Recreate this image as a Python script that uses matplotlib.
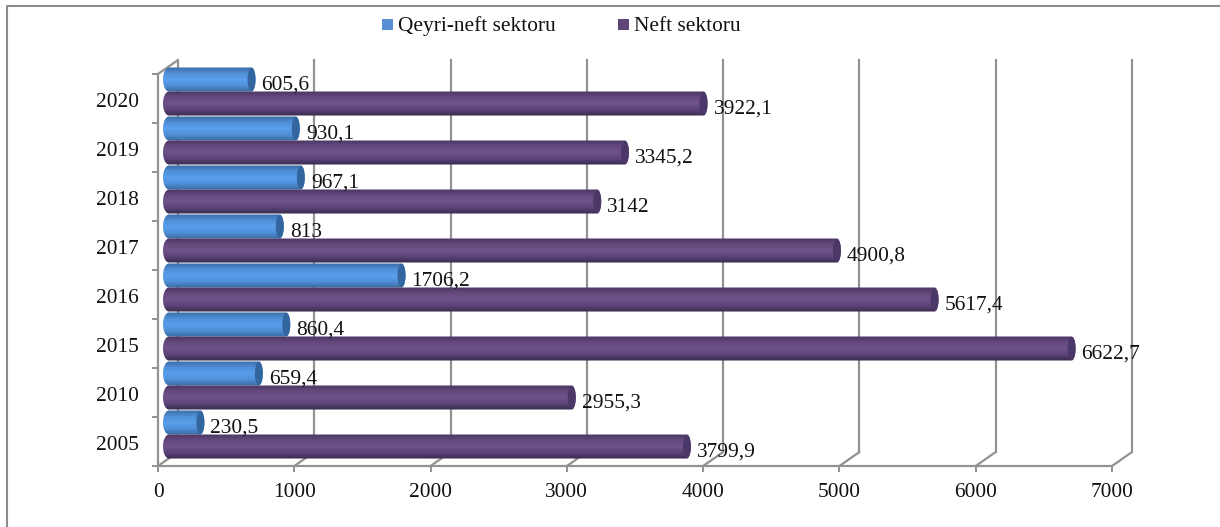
import numpy as np
import matplotlib
matplotlib.use("Agg")
import matplotlib.pyplot as plt
from matplotlib.colors import LinearSegmentedColormap
from matplotlib.lines import Line2D
from matplotlib.patches import Polygon, Rectangle
from matplotlib.transforms import Affine2D

plt.rcParams["font.family"] = ["Liberation Serif", "DejaVu Serif"]

years = ["2005", "2010", "2015", "2016", "2017", "2018", "2019", "2020"]
non_oil = [230.5, 659.4, 860.4, 1706.2, 813, 967.1, 930.1, 605.6]
oil = [3799.9, 2955.3, 6622.7, 5617.4, 4900.8, 3142, 3345.2, 3922.1]
non_oil_labels = ["230,5", "659,4", "860,4", "1706,2", "813", "967,1", "930,1", "605,6"]
oil_labels = ["3799,9", "2955,3", "6622,7", "5617,4", "4900,8", "3142", "3345,2", "3922,1"]
x_ticks = [0, 1000, 2000, 3000, 4000, 5000, 6000, 7000]

W, H = 1220, 527
GRID = "#929292"
FS = 15.4

fig = plt.figure(figsize=(W / 100, H / 100), dpi=100)

# only top and left edge of the frame are visible
fig.add_artist(Line2D([6.5 / W, 6.5 / W, 1], [0, 1 - 5.5 / H, 1 - 5.5 / H], color="#8c8c8c", linewidth=1.5))

ax = fig.add_axes([158 / W, 1 - 466 / H, (1112 - 158) / W, (466 - 74) / H])
ax.set_xlim(0, 7000)
ax.set_ylim(-0.5, 7.5)
ax.patch.set_alpha(0)


def shifted(dx, dy):
    # pixel offset for the fake 3d depth
    return ax.transData + Affine2D().translate(dx, dy)


def diagonal(x, y):
    ax.annotate("", xy=(x, y), xycoords=back, xytext=(x, y), textcoords=ax.transData,
                arrowprops=dict(arrowstyle="-", color=GRID, lw=1.6, shrinkA=0, shrinkB=0), zorder=1)


# back wall and floor lines
back = shifted(20, 14)
for t in x_ticks:
    ax.plot([t, t], [-0.5, 7.5], color=GRID, lw=1.6, transform=back, clip_on=False, zorder=1)
    diagonal(t, -0.5)
diagonal(0, 7.5)

blue_cmap = LinearSegmentedColormap.from_list("b", ["#3a6ca6", "#4f8fd6", "#5a9fec", "#4f8fd8", "#386a9f"])
purple_cmap = LinearSegmentedColormap.from_list("p", ["#4a3763", "#66497f", "#6f5288", "#5c4378", "#392a4e"])
gradient = np.linspace(0, 1, 64).reshape(-1, 1)

bar_h = 0.49
px = 7000 / 954  # data units per pixel
cap = 4 * px
cap_left = 6 * px
bar_tr = shifted(11, 7)


def draw_bar(value, yc, cmap, cap_color, z):
    t = np.linspace(-np.pi / 2, np.pi / 2, 30)
    right = np.column_stack([value + cap * np.cos(t), yc + bar_h / 2 * np.sin(t)])
    left = np.column_stack([-cap_left * np.cos(t[::-1]), yc + bar_h / 2 * np.sin(t[::-1])])
    body = Polygon(np.vstack([right, left]), closed=True, transform=bar_tr, facecolor="none", edgecolor="none",
                   clip_on=False)
    ax.add_patch(body)
    im = ax.imshow(gradient, cmap=cmap, aspect="auto", transform=bar_tr, zorder=z,
                   extent=[-cap_left, value + cap, yc - bar_h / 2, yc + bar_h / 2], origin="upper")
    im.set_clip_box(fig.bbox)
    im.set_clip_path(body)
    tt = np.linspace(0, 2 * np.pi, 60)
    end = np.column_stack([value + cap * np.cos(tt), yc + bar_h / 2 * 0.97 * np.sin(tt)])
    ax.add_patch(Polygon(end, closed=True, transform=bar_tr, facecolor=cap_color, edgecolor="none", zorder=z + 0.1,
                         clip_on=False))


label_tr = shifted(21, 1)
for i in range(len(years)):
    draw_bar(oil[i], i - bar_h / 2, purple_cmap, "#4c3769", 3 + (7 - i) * 0.01)
    draw_bar(non_oil[i], i + bar_h / 2, blue_cmap, "#33659f", 2 + (7 - i) * 0.01)
    ax.text(non_oil[i], i + bar_h / 2, non_oil_labels[i], transform=label_tr, fontsize=FS, ha="left", va="center",
            color="#111111", zorder=5, clip_on=False)
    ax.text(oil[i], i - bar_h / 2, oil_labels[i], transform=label_tr, fontsize=FS, ha="left", va="center",
            color="#111111", zorder=5, clip_on=False)

ax.set_xlim(0, 7000)
ax.set_ylim(-0.5, 7.5)

for s in ["top", "right"]:
    ax.spines[s].set_visible(False)
for s in ["left", "bottom"]:
    ax.spines[s].set_color(GRID)
    ax.spines[s].set_linewidth(1.6)

ax.set_xticks(x_ticks)
ax.set_yticks(np.arange(-0.5, 8, 1))
ax.set_yticklabels([])
ax.tick_params(axis="both", color=GRID, width=1.4, length=4)
ax.tick_params(axis="x", labelsize=FS, pad=8, labelcolor="#111111")
for i, y in enumerate(years):
    ax.annotate(y, xy=(0, i), xycoords=ax.get_yaxis_transform(), xytext=(-14, -3), textcoords="offset points",
                ha="right", va="center", fontsize=FS, color="#111111")

# legend
fig.add_artist(Rectangle((382 / W, 1 - 30 / H), 11 / W, 11 / H, transform=fig.transFigure,
                         facecolor="#5a8fd6", edgecolor="none"))
fig.text(398 / W, 1 - 31 / H, "Qeyri-neft sektoru", fontsize=FS, va="baseline", ha="left", color="#111111")
fig.add_artist(Rectangle((618 / W, 1 - 30 / H), 11 / W, 11 / H, transform=fig.transFigure,
                         facecolor="#5f4679", edgecolor="none"))
fig.text(634 / W, 1 - 31 / H, "Neft sektoru", fontsize=FS, va="baseline", ha="left", color="#111111")

fig.savefig("out.png", dpi=100)
